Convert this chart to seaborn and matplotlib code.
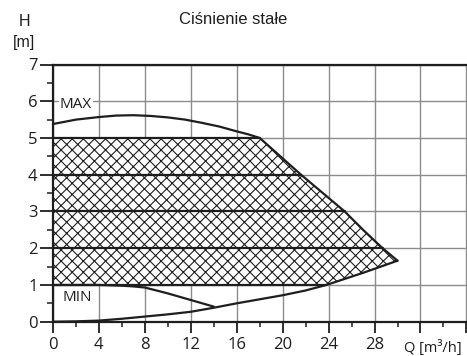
import numpy as np
import matplotlib
matplotlib.use("Agg")
import matplotlib.pyplot as plt
import seaborn as sns

# pump curve data
max_q = [0, 2, 4, 5.5, 7, 8.5, 10, 11.5, 13, 14.5, 16, 17, 18, 19.8, 21.6, 23.5, 25.4, 27, 28.7, 30]
max_h = [5.38, 5.5, 5.57, 5.61, 5.62, 5.6, 5.56, 5.5, 5.41, 5.31, 5.18, 5.1, 5.0, 4.5, 4.0, 3.5, 3.0, 2.5, 2.0, 1.66]

min_q = [0, 2, 4, 5, 6, 7, 8, 9, 10, 11, 12, 13, 14]
min_h = [1.0, 1.0, 1.0, 0.99, 0.98, 0.96, 0.93, 0.85, 0.77, 0.68, 0.59, 0.5, 0.41]

low_q = [0, 2, 4, 6, 8, 10, 12, 14, 16, 18, 20, 22, 23.8, 27, 30]
low_h = [0, 0.01, 0.03, 0.08, 0.14, 0.2, 0.27, 0.38, 0.5, 0.61, 0.72, 0.85, 1.0, 1.33, 1.66]

levels = [1, 2, 3, 4, 5]
x_ticks = [0, 4, 8, 12, 16, 20, 24, 28, 32, 36]
x_labels = ["0", "4", "8", "12", "16", "20", "24", "28", "", ""]
y_ticks = [0, 1, 2, 3, 4, 5, 6, 7]

dark = "#1e1e1e"
gridc = "#8c8c8c"

sns.set_style("white")
plt.rcParams["font.family"] = ["Open Sans", "DejaVu Sans"]
plt.rcParams["hatch.linewidth"] = 0.8
plt.rcParams["hatch.color"] = dark

fig = plt.figure(figsize=(4.67, 3.56), dpi=100)
ax = fig.add_axes([53 / 467, 34.3 / 356, 414 / 467, 257.2 / 356])

# hatched working area
qq = np.linspace(0, max_q[-1], 400)
top = np.minimum(np.interp(qq, max_q, max_h), levels[-1])
bot = np.maximum(np.interp(qq, low_q, low_h), levels[0])
ax.fill_between(qq, bot, top, facecolor="white", edgecolor=dark, hatch="xxx",
                linewidth=0, zorder=2)

# thick horizontal lines inside the area
k = max_q.index(18)
q_desc = np.array(max_q[k:])[::-1]
h_desc = np.array(max_h[k:])[::-1]
for h in levels:
    if h < max_h[-1]:
        q_end = np.interp(h, low_h, low_q)
    else:
        q_end = np.interp(h, h_desc, q_desc)
    ax.plot([0, q_end], [h, h], color=dark, lw=1.6, zorder=3)

sns.lineplot(x=max_q, y=max_h, color=dark, lw=1.6, ax=ax, zorder=4)
sns.lineplot(x=min_q, y=min_h, color=dark, lw=1.6, ax=ax, zorder=4)
sns.lineplot(x=low_q, y=low_h, color=dark, lw=1.6, ax=ax, zorder=4)

ax.set_xlim(0, 36.05)
ax.set_ylim(0, 7)
ax.set_xticks(x_ticks)
ax.set_xticklabels(x_labels)
ax.set_yticks(y_ticks)
ax.set_xticks(np.arange(2, 36, 4), minor=True)
ax.set_yticks(np.arange(0.5, 7, 1), minor=True)
ax.grid(True, which="major", color=gridc, lw=1, zorder=0)
ax.set_axisbelow(True)
ax.tick_params(axis="x", which="major", length=8, width=1.3, color=dark,
               labelsize=12, pad=3, labelcolor=dark)
ax.tick_params(axis="x", which="minor", length=3.8, width=1.1, color=dark)
ax.tick_params(axis="y", which="major", length=9.5, width=1.3, color=dark,
               labelsize=12, pad=1.5, labelcolor=dark)
ax.tick_params(axis="y", which="minor", length=4.5, width=1.1, color=dark)
ax.tick_params(bottom=True, left=True, which="both")
for side in ["left", "top", "bottom"]:
    ax.spines[side].set_color(dark)
    ax.spines[side].set_linewidth(1.6)
ax.spines["right"].set_visible(False)

ax.text(0.6, 5.9, "MAX", fontsize=11, color=dark, va="center", ha="left",
        bbox=dict(facecolor="white", edgecolor="none", pad=0.5), zorder=5)
ax.text(0.8, 0.67, "MIN", fontsize=11, color=dark, va="center", ha="left",
        zorder=5)
ax.text(30.6, -0.72, "Q [m³/h]", fontsize=10.5, color=dark, va="center",
        ha="left", clip_on=False)

fig.text(233 / 467, 1 - 20 / 356, "Ciśnienie stałe", fontsize=12,
         family="Liberation Sans", ha="center", va="center", color=dark)
fig.text(24 / 467, 1 - 22 / 356, "H", fontsize=11.5, family="Liberation Sans",
         ha="center", va="center", color=dark)
fig.text(24 / 467, 1 - 42 / 356, "[m]", fontsize=11.5, family="Liberation Sans",
         ha="center", va="center", color=dark)

fig.savefig("out.png", dpi=100)
